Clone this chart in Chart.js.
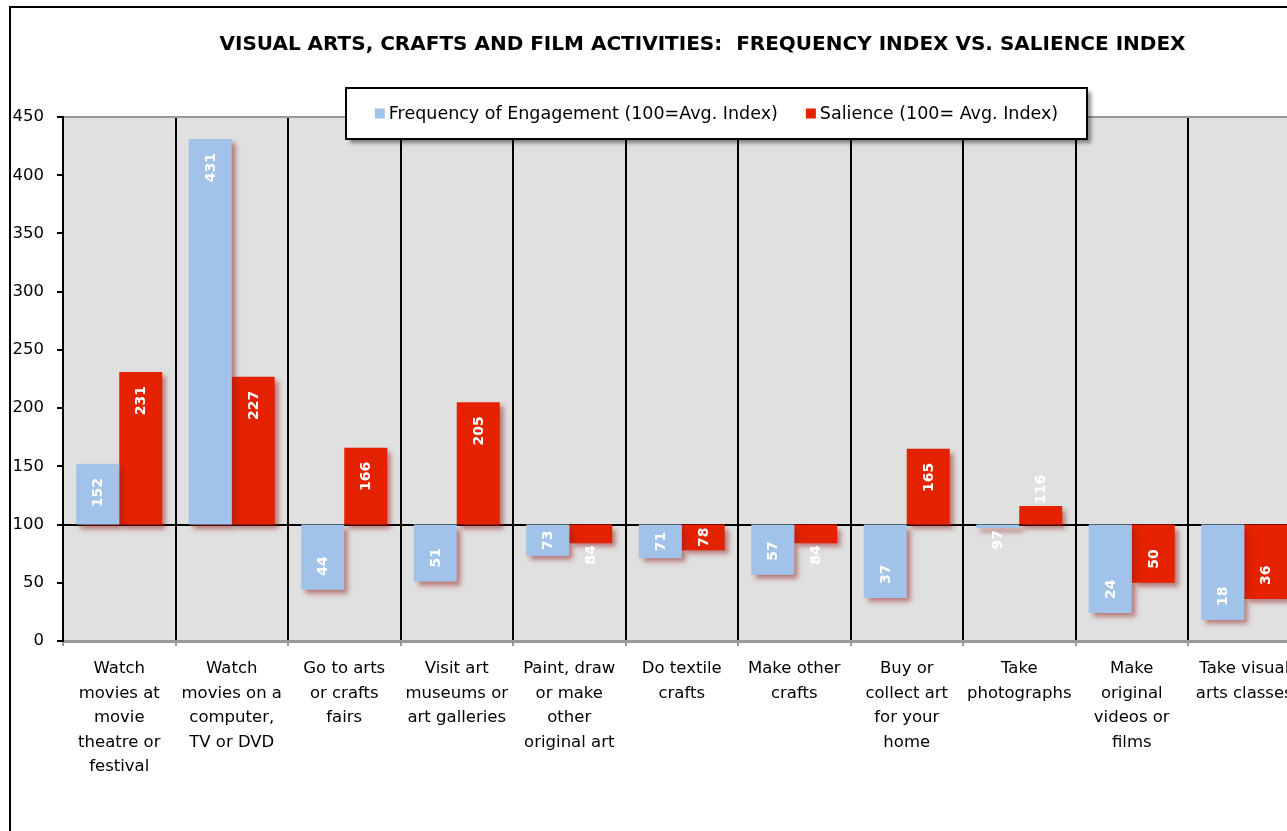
<!DOCTYPE html>
<html>
<head>
<meta charset="utf-8">
<script src="https://cdn.jsdelivr.net/npm/chart.js@4.4.0/dist/chart.umd.min.js"></script>
<style>
    html, body { margin: 0; padding: 0; background: #fff; overflow: hidden; }
    #frame { position: absolute; left: 9px; top: 6px; border: 2px solid #000; width: 1383px; height: 880px; }
    canvas { display: block; }
</style>
</head>
<body>
<div id="frame"><canvas id="myChart" width="1383" height="880"></canvas></div>
<script>
var chartTitle = "VISUAL ARTS, CRAFTS AND FILM ACTIVITIES:  FREQUENCY INDEX VS. SALIENCE INDEX";
var categories = [
    ["Watch", "movies at", "movie", "theatre or", "festival"],
    ["Watch", "movies on a", "computer,", "TV or DVD"],
    ["Go to arts", "or crafts", "fairs"],
    ["Visit art", "museums or", "art galleries"],
    ["Paint, draw", "or make", "other", "original art"],
    ["Do textile", "crafts"],
    ["Make other", "crafts"],
    ["Buy or", "collect art", "for your", "home"],
    ["Take", "photographs"],
    ["Make", "original", "videos or", "films"],
    ["Take visual", "arts classes"]
];
var frequencyIndex = [152, 431, 44, 51, 73, 71, 57, 37, 97, 24, 18];
var salienceIndex = [231, 227, 166, 205, 84, 78, 84, 165, 116, 50, 36];
var yTicks = [0, 50, 100, 150, 200, 250, 300, 350, 400, 450];
var baseValue = 100;

var FONT = "'DejaVu Sans', sans-serif";
var BLUE = "#A2C3E9", RED = "#E42200";

// bars float from the 100 average line
function toFloating(values) {
    var result = [];
    for (var i = 0; i < values.length; i++) {
        result.push([baseValue, values[i]]);
    }
    return result;
}

var extras = {
    id: "extras",
    beforeDraw: function (chart) {
        var a = chart.chartArea, ctx = chart.ctx;
        ctx.save();
        ctx.fillStyle = "#E0E0E0";
        ctx.fillRect(a.left, a.top, a.right - a.left, a.bottom - a.top);
        // title
        ctx.font = "bold 20px " + FONT;
        ctx.fillStyle = "#000";
        ctx.textAlign = "center";
        ctx.textBaseline = "middle";
        ctx.fillText(chartTitle, 691.5, 37);
        ctx.restore();
    },
    beforeDatasetsDraw: function (chart) {
        var ctx = chart.ctx;
        ctx.save();
        ctx.shadowColor = "rgba(150, 30, 30, 0.55)";
        ctx.shadowOffsetX = 4;
        ctx.shadowOffsetY = 4;
        ctx.shadowBlur = 5;
    },
    afterDatasetsDraw: function (chart) {
        var ctx = chart.ctx;
        ctx.restore();
        var yScale = chart.scales.y;
        var yBase = yScale.getPixelForValue(baseValue);
        var sets = [frequencyIndex, salienceIndex];
        ctx.save();
        ctx.font = "bold 14px " + FONT;
        ctx.fillStyle = "#fff";
        ctx.textAlign = "center";
        ctx.textBaseline = "middle";
        for (var d = 0; d < sets.length; d++) {
            var meta = chart.getDatasetMeta(d);
            for (var j = 0; j < sets[d].length; j++) {
                var el = meta.data[j];
                var txt = String(sets[d][j]);
                var w = ctx.measureText(txt).width;
                var yEnd = yScale.getPixelForValue(sets[d][j]);
                var dir = yEnd < yBase ? -1 : 1;
                var len = Math.abs(yEnd - yBase);
                var pad = 14, cy;
                if (len >= w + 2 * pad) {
                    cy = yEnd - dir * (pad + w / 2);
                } else if (len >= w + 4) {
                    cy = (yEnd + yBase) / 2;
                } else {
                    cy = yEnd + dir * (w / 2 + 2);
                }
                ctx.save();
                ctx.translate(el.x, cy);
                ctx.rotate(-Math.PI / 2);
                ctx.fillText(txt, 0, 1);
                ctx.restore();
            }
        }
        ctx.restore();
    },
    afterDraw: function (chart) {
        var ctx = chart.ctx;
        var bx = 335, by = 80, bw = 741, bh = 51;
        ctx.save();
        ctx.shadowColor = "rgba(0, 0, 0, 0.45)";
        ctx.shadowOffsetX = 4;
        ctx.shadowOffsetY = 4;
        ctx.shadowBlur = 4;
        ctx.fillStyle = "#fff";
        ctx.fillRect(bx, by, bw, bh);
        ctx.shadowColor = "transparent";
        ctx.lineWidth = 2;
        ctx.strokeStyle = "#000";
        ctx.strokeRect(bx, by, bw, bh);

        ctx.font = "17.5px " + FONT;
        ctx.textBaseline = "middle";
        ctx.textAlign = "left";
        var items = chart.data.datasets;
        var sq = 10, gap = 4, between = 28, total = 0, k;
        for (k = 0; k < items.length; k++) {
            total += sq + gap + ctx.measureText(items[k].label).width;
        }
        total += between * (items.length - 1);
        var x = bx + bw / 2 - total / 2, cy = by + bh / 2;
        for (k = 0; k < items.length; k++) {
            ctx.fillStyle = items[k].backgroundColor;
            ctx.fillRect(x, cy - 5, sq, sq);
            x += sq + gap;
            ctx.fillStyle = "#000";
            ctx.fillText(items[k].label, x, cy + 1);
            x += ctx.measureText(items[k].label).width + between;
        }
        ctx.restore();
    }
};

var data = {
    labels: categories,
    datasets: [
        {
            label: "Frequency of Engagement (100=Avg. Index)",
            backgroundColor: BLUE,
            data: toFloating(frequencyIndex),
            categoryPercentage: 0.764,
            barPercentage: 1.0
        },
        {
            label: "Salience (100= Avg. Index)",
            backgroundColor: RED,
            data: toFloating(salienceIndex),
            categoryPercentage: 0.764,
            barPercentage: 1.0
        }
    ]
};

var ctx = document.getElementById("myChart").getContext("2d");
var mychart = new Chart(ctx, {
    type: "bar",
    data: data,
    plugins: [extras],
    options: {
        responsive: false,
        animation: false,
        layout: { padding: { top: 109, left: 0, right: 93.5, bottom: 97 } },
        plugins: {
            legend: { display: false },
            tooltip: { enabled: false },
            title: { display: false }
        },
        scales: {
            x: {
                afterFit: function (scale) { scale.height = 150; },
                grid: { color: "#000", lineWidth: 2, offset: true, drawTicks: true, tickLength: 5, tickColor: "#999" },
                border: { color: "#999", width: 3 },
                ticks: {
                    autoSkip: false, maxRotation: 0, minRotation: 0, padding: 11, color: "#000",
                    font: { family: FONT, size: 16.5, lineHeight: 1.48 }
                }
            },
            y: {
                min: yTicks[0],
                max: yTicks[yTicks.length - 1],
                afterFit: function (scale) { scale.width = 52; },
                afterBuildTicks: function (scale) {
                    scale.ticks = yTicks.map(function (v) { return { value: v }; });
                },
                grid: {
                    lineWidth: 2,
                    drawTicks: true,
                    tickLength: 6,
                    tickColor: "#000",
                    color: function (c) {
                        if (!c.tick) return "rgba(0,0,0,0)";
                        if (c.tick.value === baseValue) return "#000";
                        if (c.tick.value === yTicks[yTicks.length - 1]) return "#999";
                        return "rgba(0,0,0,0)";
                    }
                },
                border: { color: "#000", width: 2 },
                ticks: { padding: 13, color: "#000", font: { family: FONT, size: 16.5 } }
            }
        }
    }
});
</script>
</body>
</html>
